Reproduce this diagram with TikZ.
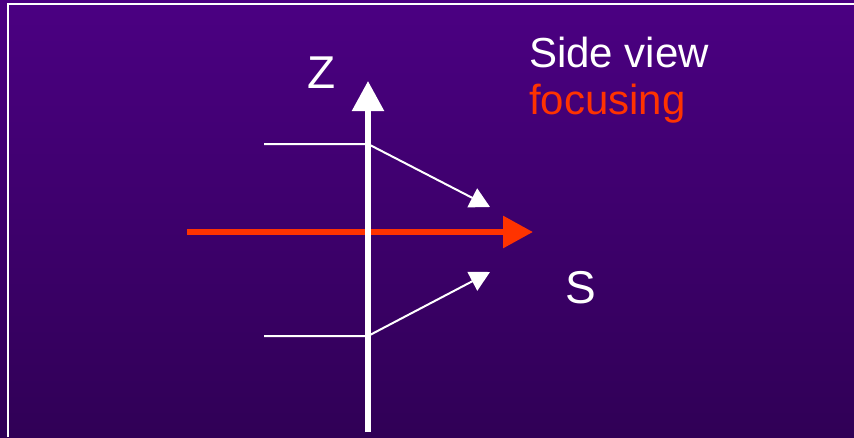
\documentclass[tikz,border=0pt]{standalone}
\usepackage{fontspec}
\setmainfont{Liberation Sans}
\usetikzlibrary{arrows.meta}
\definecolor{bgtop}{RGB}{75,0,130}
\definecolor{bgbot}{RGB}{48,0,86}
\definecolor{redarrow}{RGB}{255,51,0}
\tikzset{
  lbl/.style={inner sep=0pt, anchor=base west, text=white},
  bigfont/.style={font=\fontsize{46}{46}\selectfont},
  midfont/.style={font=\fontsize{42}{47}\selectfont},
  axis/.style={white, line width=5.5pt, -{Triangle[length=30pt,width=31pt]}},
  beam/.style={redarrow, line width=6pt, -{Triangle[length=30pt,width=31pt]}},
  ray/.style={white, line width=2pt, -{Triangle[length=20pt,width=21pt]}},
}
\begin{document}
\begin{tikzpicture}[x=1pt,y=-1pt]
  \fill[top color=bgtop, bottom color=bgbot] (0,0) rectangle (854,437);
  \useasboundingbox (0,0) rectangle (854,437);
  \draw[white, line width=2pt] (8,437) -- (8,4) -- (854,4);

  % coordinates
  \coordinate (zbot) at (368,432);
  \coordinate (ztop) at (368,81);
  \coordinate (sl) at (187,232);
  \coordinate (sr) at (533,232);
  \coordinate (u0) at (264,144);
  \coordinate (u1) at (368,144);
  \coordinate (u2) at (490,207);
  \coordinate (l0) at (264,336);
  \coordinate (l1) at (368,336);
  \coordinate (l2) at (490,272);

  % rays
  \draw[ray] (u0) -- (u1) -- (u2);
  \draw[ray] (l0) -- (l1) -- (l2);
  % optical axis (red)
  \draw[beam] (sl) -- (sr);
  % z axis
  \draw[axis] (zbot) -- (ztop);

  % labels
  \node[lbl, bigfont] (zlabel) at (307,88) {Z};
  \node[lbl, bigfont] (slabel) at (565,303) {S};
  \node[lbl, midfont] (side) at (529,67) {Side view};
  \node[lbl, midfont, text=redarrow] (focus) at (529,114) {focusing};
\end{tikzpicture}
\end{document}
